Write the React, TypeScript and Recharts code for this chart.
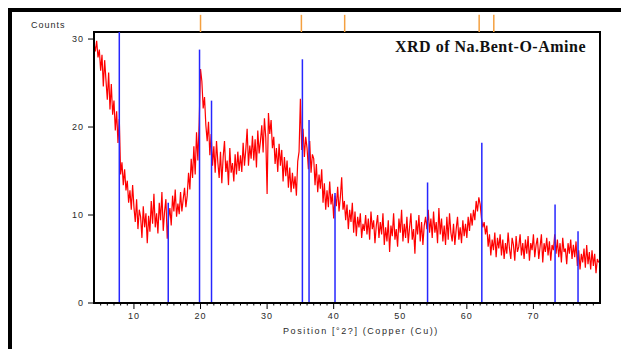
import React from "react";
import { ComposedChart, Line, XAxis, YAxis, ReferenceLine, ReferenceArea } from "recharts";

// XRD scan: counts, 5 readings per degree 2θ starting at 4°
const START_ANGLE = 4;
const STEP = 0.2;
const counts = [
  29.5, 28.6, 29.8, 27.9, 28.8, // 4
  26.4, 28.2, 24.6, 27.6, 25.3, // 5
  23.1, 26.2, 22.0, 24.9, 21.4, // 6
  23.0, 19.6, 21.8, 18.2, 20.9, // 7
  14.6, 16.0, 13.4, 15.2, 12.8, // 8
  13.9, 11.4, 12.8, 10.6, 13.4, // 9
  10.9, 9.2, 11.8, 8.4, 10.6, // 10
  9.8, 7.4, 11.0, 8.6, 10.2, // 11
  6.8, 9.9, 8.1, 11.6, 9.0, // 12
  12.4, 8.6, 10.2, 7.9, 11.4, // 13
  9.4, 12.6, 8.2, 10.4, 11.8, // 14
  7.3, 9.6, 10.8, 8.8, 12.2, // 15
  10.4, 12.9, 9.8, 11.3, 10.1, // 16
  12.6, 10.4, 11.8, 13.1, 10.9, // 17
  12.2, 14.8, 12.9, 16.4, 14.2, // 18
  17.8, 14.6, 19.4, 16.2, 20.5, // 19
  26.6, 25.2, 22.1, 23.4, 20.2, // 20
  18.4, 20.6, 16.8, 19.2, 15.6, // 21
  17.8, 14.8, 18.4, 16.0, 14.2, // 22
  17.2, 13.6, 16.6, 18.4, 14.9, // 23
  16.2, 13.4, 17.6, 14.8, 15.9, // 24
  13.8, 16.9, 14.6, 17.2, 15.0, // 25
  16.8, 14.9, 18.2, 15.6, 17.4, // 26
  19.8, 15.6, 17.9, 16.4, 19.0, // 27
  16.2, 18.6, 15.4, 19.6, 17.0, // 28
  18.4, 20.2, 17.1, 21.0, 18.8, // 29
  12.4, 21.6, 19.2, 20.8, 17.6, // 30
  18.9, 15.8, 17.6, 14.9, 18.1, // 31
  15.6, 17.4, 13.8, 16.6, 14.4, // 32
  16.2, 13.1, 15.4, 12.6, 14.8, // 33
  13.0, 14.4, 12.2, 16.1, 17.2, // 34
  23.2, 17.4, 19.8, 16.6, 18.9, // 35
  17.6, 15.2, 18.4, 14.8, 16.9, // 36
  16.4, 13.4, 15.8, 12.6, 14.6, // 37
  13.0, 15.2, 11.4, 13.6, 10.6, // 38
  12.8, 10.9, 13.8, 11.2, 12.4, // 39
  9.6, 12.2, 11.0, 13.2, 10.4, // 40
  12.0, 14.3, 10.6, 11.6, 9.4, // 41
  11.2, 8.4, 10.6, 9.2, 11.4, // 42
  8.0, 10.4, 7.6, 9.8, 8.6, // 43
  10.2, 7.4, 9.0, 8.2, 10.0, // 44
  7.8, 9.6, 7.2, 10.4, 8.4, // 45
  9.4, 6.8, 8.8, 10.0, 7.4, // 46
  9.2, 7.8, 10.2, 6.6, 8.6, // 47
  7.0, 9.4, 5.8, 8.8, 7.6, // 48
  10.2, 7.2, 8.4, 6.4, 9.6, // 49
  8.0, 10.6, 7.0, 9.0, 7.4, // 50
  9.8, 6.8, 8.6, 10.2, 7.2, // 51
  8.4, 5.6, 9.4, 7.8, 10.0, // 52
  7.0, 9.2, 6.6, 8.8, 9.8, // 53
  8.4, 10.6, 8.0, 9.6, 7.4, // 54
  10.4, 8.0, 9.2, 6.8, 10.8, // 55
  7.8, 9.6, 7.0, 8.8, 6.6, // 56
  9.8, 7.2, 10.2, 8.0, 7.0, // 57
  9.0, 6.6, 8.4, 9.8, 7.2, // 58
  8.6, 6.8, 9.4, 7.6, 9.0, // 59
  7.4, 9.8, 8.2, 10.2, 8.8, // 60
  10.6, 9.4, 11.6, 10.4, 12.0, // 61
  11.2, 9.6, 8.6, 9.2, 7.8, // 62
  8.8, 6.4, 7.8, 5.4, 7.2, // 63
  6.0, 8.0, 5.2, 7.4, 6.2, // 64
  7.8, 5.4, 7.2, 5.0, 6.8, // 65
  5.6, 8.0, 6.2, 5.0, 7.4, // 66
  6.6, 4.8, 7.6, 5.8, 6.4, // 67
  7.8, 5.4, 6.8, 5.0, 7.2, // 68
  5.6, 7.6, 4.8, 6.8, 6.0, // 69
  7.8, 5.2, 6.6, 7.4, 5.0, // 70
  6.4, 7.8, 4.6, 6.8, 5.8, // 71
  7.4, 5.4, 7.0, 4.8, 6.6, // 72
  6.0, 7.8, 5.6, 7.2, 5.2, // 73
  6.8, 4.6, 7.4, 5.8, 6.2, // 74
  4.4, 6.8, 5.6, 7.2, 5.0, // 75
  6.6, 5.2, 7.0, 4.2, 6.0, // 76
  3.8, 5.6, 4.6, 6.2, 4.0, // 77
  6.6, 4.4, 5.8, 3.8, 6.0, // 78
  4.2, 5.6, 3.4, 5.0, 4.6, // 79
];

// reference pattern sticks (blue) and the peak markers above the plot (orange)
const stickAngles = [7.8, 15.15, 19.85, 21.65, 35.3, 36.3, 40.2, 54.1, 62.25, 73.25, 76.7];
const stickCounts = [30.8, 11.4, 28.8, 23.0, 27.7, 20.8, 12.5, 13.7, 18.2, 11.2, 8.15];
const markerAngles = [20.0, 35.15, 41.65, 61.85, 64.05];

const xTicks = [
  5, 6, 7, 8, 9, 10, 11, 12, 13, 14, 15, 16, 17, 18, 19, 20, 21, 22, 23, 24, 25,
  26, 27, 28, 29, 30, 31, 32, 33, 34, 35, 36, 37, 38, 39, 40, 41, 42, 43, 44, 45,
  46, 47, 48, 49, 50, 51, 52, 53, 54, 55, 56, 57, 58, 59, 60, 61, 62, 63, 64, 65,
  66, 67, 68, 69, 70, 71, 72, 73, 74, 75, 76, 77, 78, 79,
];
const xLabelled = [10, 20, 30, 40, 50, 60, 70];
const yTicks = [0, 10, 20, 30];

const X_DOMAIN: [number, number] = [4, 80];
const Y_DOMAIN: [number, number] = [0, 30.8];
const MARKER_TOP = 32.75; // counts-scale height where the orange markers end, above the frame

const rows = counts.map((c, i) => ({ angle: START_ANGLE + i * STEP, count: c }));

const FONT = "'Liberation Sans', Arial, sans-serif";
const TEXT = "#2a2a2a";

function XTick(props: any) {
  const { x, y, payload } = props;
  const major = xLabelled.includes(payload.value);
  return (
    <g>
      <line x1={x} x2={x} y1={y} y2={y + (major ? 6 : 2.5)} stroke="#000" strokeWidth={1} />
      {major && (
        <text
          x={x}
          y={y + 10}
          dy="0.71em"
          textAnchor="middle"
          fontSize={9}
          fontFamily={FONT}
          letterSpacing={1}
          fill={TEXT}
        >
          {payload.value}
        </text>
      )}
    </g>
  );
}

export default function App() {
  return (
    <div
      style={{
        position: "fixed",
        left: 0,
        top: 0,
        width: 621,
        height: 349,
        overflow: "hidden",
        background: "#fff",
      }}
    >
      <div
        style={{
          position: "absolute",
          left: 8,
          top: 8,
          width: 800,
          height: 800,
          borderTop: "4px solid #000",
          borderLeft: "4px solid #000",
        }}
      />
      <div style={{ position: "absolute", left: 0, top: 0 }}>
        <ComposedChart
          width={621}
          height={349}
          data={rows}
          margin={{ top: 32, right: 21, bottom: 16, left: 64 }}
        >
          <XAxis
            xAxisId="main"
            dataKey="angle"
            type="number"
            domain={X_DOMAIN}
            allowDataOverflow
            ticks={xTicks}
            interval={0}
            height={30}
            tickSize={0}
            tickMargin={0}
            tickLine={false}
            tick={XTick}
            axisLine={{ stroke: "#000", strokeWidth: 2 }}
          />
          <YAxis
            yAxisId="left"
            type="number"
            domain={Y_DOMAIN}
            allowDataOverflow
            ticks={yTicks}
            interval={0}
            width={30}
            tickSize={6}
            tickMargin={4}
            tick={{ fontSize: 9, fill: TEXT, fontFamily: FONT, letterSpacing: 1 }}
            tickLine={{ stroke: "#000" }}
            axisLine={{ stroke: "#000", strokeWidth: 2 }}
          />
          <ReferenceArea
            xAxisId="main"
            yAxisId="left"
            x1={X_DOMAIN[0]}
            x2={X_DOMAIN[1]}
            y1={Y_DOMAIN[0]}
            y2={Y_DOMAIN[1]}
            fill="none"
            fillOpacity={0}
            stroke="#000"
            strokeWidth={2}
            ifOverflow="visible"
          />
          <Line
            xAxisId="main"
            yAxisId="left"
            dataKey="count"
            stroke="#ff0000"
            strokeWidth={1.2}
            dot={false}
            activeDot={false}
            isAnimationActive={false}
          />
          {stickAngles.map((a, i) => (
            <ReferenceLine
              key={"s" + a}
              xAxisId="main"
              yAxisId="left"
              segment={[
                { x: a, y: 0 },
                { x: a, y: stickCounts[i] },
              ]}
              stroke="#2626ff"
              strokeWidth={1.5}
            />
          ))}
          {markerAngles.map((a) => (
            <ReferenceLine
              key={"m" + a}
              xAxisId="main"
              yAxisId="left"
              segment={[
                { x: a, y: Y_DOMAIN[1] },
                { x: a, y: MARKER_TOP },
              ]}
              stroke="#f4a040"
              strokeWidth={1.5}
              ifOverflow="visible"
            />
          ))}
        </ComposedChart>
      </div>
      <div
        style={{
          position: "absolute",
          left: 31,
          top: 20,
          fontSize: 9,
          fontFamily: FONT,
          letterSpacing: 1,
          color: TEXT,
          lineHeight: "10px",
        }}
      >
        Counts
      </div>
      <div
        style={{
          position: "absolute",
          left: 395,
          top: 38,
          fontSize: 16,
          fontWeight: "bold",
          fontFamily: "'Liberation Serif', 'Times New Roman', serif",
          letterSpacing: 0.5,
          color: "#111",
          lineHeight: "18px",
          whiteSpace: "nowrap",
        }}
      >
        XRD of Na.Bent-O-Amine
      </div>
      <div
        style={{
          position: "absolute",
          left: 283,
          top: 326,
          fontSize: 9,
          fontFamily: FONT,
          letterSpacing: 1.6,
          color: TEXT,
          lineHeight: "10px",
          whiteSpace: "nowrap",
        }}
      >
        Position [°2?] (Copper (Cu))
      </div>
    </div>
  );
}
